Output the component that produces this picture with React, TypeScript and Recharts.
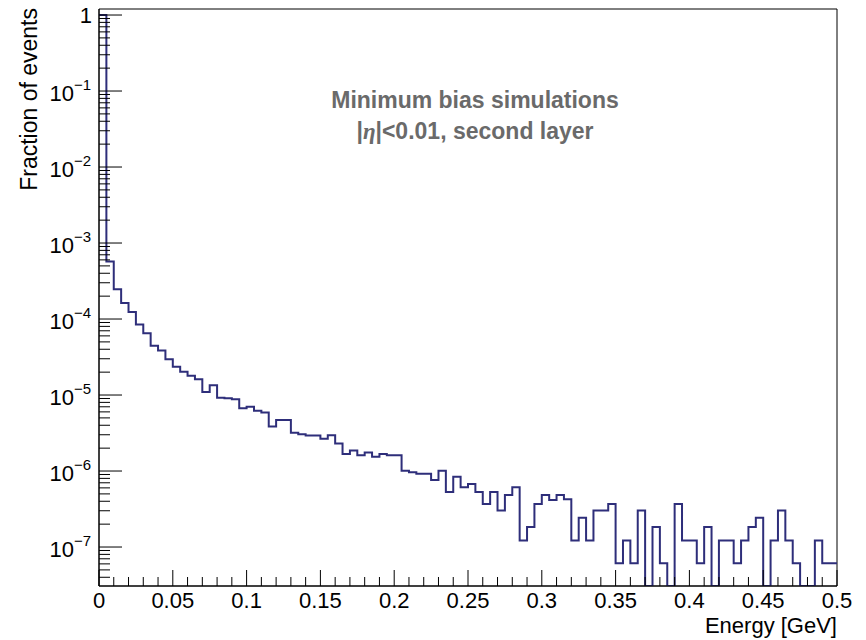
import { LineChart, Line, XAxis, YAxis, ReferenceArea } from "recharts";

// histogram: 100 bins of 5 MeV, fraction of events per bin (0 = empty bin)
const BIN_WIDTH = 0.005;
const fractions = [
  0.999, 5.7e-4, 2.46e-4, 1.62e-4, 1.24e-4, 8.5e-5, 6.5e-5, 4.45e-5, 3.85e-5, 2.95e-5,
  2.36e-5, 2.03e-5, 1.79e-5, 1.61e-5, 1.1e-5, 1.34e-5, 9.2e-6, 9.1e-6, 8.8e-6, 6.7e-6,
  7.0e-6, 6.2e-6, 5.9e-6, 3.85e-6, 4.7e-6, 4.7e-6, 3.2e-6, 3.04e-6, 2.93e-6, 2.93e-6,
  2.66e-6, 2.95e-6, 2.31e-6, 1.67e-6, 1.86e-6, 1.61e-6, 1.75e-6, 1.54e-6, 1.67e-6, 1.61e-6,
  1.61e-6, 1.01e-6, 9.6e-7, 9.2e-7, 9.2e-7, 7.6e-7, 1.01e-6, 5.3e-7, 8.4e-7, 6.1e-7,
  6.75e-7, 5.3e-7, 3.68e-7, 5.3e-7, 3.02e-7, 4.83e-7, 6.1e-7, 1.22e-7, 1.83e-7, 3.68e-7,
  4.83e-7, 4.15e-7, 4.83e-7, 4.25e-7, 1.22e-7, 2.42e-7, 1.22e-7, 3.02e-7, 3.02e-7, 3.68e-7,
  6.1e-8, 1.22e-7, 6.1e-8, 3.02e-7, 0, 1.83e-7, 6.1e-8, 0, 3.68e-7, 1.22e-7,
  1.22e-7, 6.1e-8, 1.83e-7, 0, 1.22e-7, 1.22e-7, 6.1e-8, 1.22e-7, 1.83e-7, 2.42e-7,
  0, 1.22e-7, 3.02e-7, 1.22e-7, 6.1e-8, 0, 0, 1.22e-7, 6.1e-8, 6.1e-8,
];

const xMajorTicks = [0, 0.05, 0.1, 0.15, 0.2, 0.25, 0.3, 0.35, 0.4, 0.45, 0.5];
const xMinorTicks = [
  0.01, 0.02, 0.03, 0.04, 0.06, 0.07, 0.08, 0.09, 0.11, 0.12, 0.13, 0.14,
  0.16, 0.17, 0.18, 0.19, 0.21, 0.22, 0.23, 0.24, 0.26, 0.27, 0.28, 0.29,
  0.31, 0.32, 0.33, 0.34, 0.36, 0.37, 0.38, 0.39, 0.41, 0.42, 0.43, 0.44,
  0.46, 0.47, 0.48, 0.49,
];
const yExponents = [0, -1, -2, -3, -4, -5, -6, -7];
const yMantissas = [2, 3, 4, 5, 6, 7, 8, 9];

const Y_MIN = 3.07e-8;
const Y_MAX = 1.2;
const FONT = "'Liberation Sans', Arial, Helvetica, sans-serif";
const HIST_COLOR = "#2e2e7a";

const yMajorTicks = yExponents.map((e) => Math.pow(10, e));
const yMinorTicks: number[] = [];
[-1, -2, -3, -4, -5, -6, -7, -8].forEach((e) => {
  yMantissas.forEach((m) => {
    const v = m * Math.pow(10, e);
    if (v > Y_MIN && v < Y_MAX) yMinorTicks.push(v);
  });
});

const chartData = fractions.map((f, i) => ({
  energy: i * BIN_WIDTH,
  frac: f > 0 ? f : Y_MIN,
}));
// closing point so the last bin extends to the right edge
chartData.push({ energy: fractions.length * BIN_WIDTH, frac: chartData[chartData.length - 1].frac });

const XTick = ({ x, y, payload }: any) => {
  const v = payload.value;
  const major = xMajorTicks.includes(v);
  return (
    <g>
      <line x1={x} x2={x} y1={y} y2={y - (major ? 16 : 9)} stroke="#000" strokeWidth={1} />
      {major && (
        <text x={x} y={y + 22} textAnchor="middle" fontSize={22} fontFamily={FONT} fill="#000">
          {String(Number(v.toFixed(2)))}
        </text>
      )}
    </g>
  );
};

const YTick = ({ x, y, payload }: any) => {
  const v = payload.value;
  const idx = yMajorTicks.indexOf(v);
  const major = idx >= 0;
  const exp = major ? yExponents[idx] : 0;
  return (
    <g>
      <line x1={x} x2={x + (major ? 23 : 11)} y1={y} y2={y} stroke="#000" strokeWidth={1} />
      {major &&
        (exp === 0 ? (
          <text x={x - 7} y={y + 8} textAnchor="end" fontSize={22} fontFamily={FONT} fill="#000">
            1
          </text>
        ) : (
          <text x={x - 8} y={y + 10} textAnchor="end" fontSize={22} fontFamily={FONT} fill="#000">
            10
            <tspan dy={-11} fontSize={15}>
              {"\u2212" + String(-exp)}
            </tspan>
          </text>
        ))}
    </g>
  );
};

export default function App() {
  return (
    <div style={{ position: "absolute", left: 0, top: 0, width: 866, height: 640, background: "#fff" }}>
      <LineChart
        width={866}
        height={640}
        data={chartData}
        margin={{ top: 9, right: 29, bottom: 0, left: 9 }}
      >
        <XAxis
          dataKey="energy"
          type="number"
          domain={[0, 0.5]}
          ticks={[...xMajorTicks, ...xMinorTicks].sort((a, b) => a - b)}
          interval={0}
          height={54}
          tickSize={0}
          tickMargin={0}
          tickLine={false}
          axisLine={{ stroke: "#000", strokeWidth: 1 }}
          tick={<XTick />}
          allowDataOverflow
        />
        <YAxis
          scale="log"
          domain={[Y_MIN, Y_MAX]}
          ticks={[...yMajorTicks, ...yMinorTicks]}
          interval={0}
          width={90}
          tickSize={0}
          tickMargin={0}
          tickLine={false}
          axisLine={{ stroke: "#000", strokeWidth: 1 }}
          tick={<YTick />}
          allowDataOverflow
        />
        <ReferenceArea
          x1={0}
          x2={0.5}
          y1={Y_MIN}
          y2={Y_MAX}
          fill="none"
          stroke="#000"
          strokeWidth={1}
          fillOpacity={0}
        />
        <Line
          type="stepAfter"
          dataKey="frac"
          stroke={HIST_COLOR}
          strokeWidth={2}
          dot={false}
          activeDot={false}
          isAnimationActive={false}
        />
      </LineChart>
      <svg
        width={866}
        height={640}
        style={{ position: "absolute", left: 0, top: 0, pointerEvents: "none" }}
      >
        <text
          transform="rotate(-90)"
          x={-8}
          y={37}
          textAnchor="end"
          fontSize={23}
          fontFamily={FONT}
          fill="#000"
        >
          Fraction of events
        </text>
        <text x={837} y={633} textAnchor="end" fontSize={22} fontFamily={FONT} fill="#000">
          Energy [GeV]
        </text>
        <text x={475} y={108} textAnchor="middle" fontSize={23} fontWeight="bold" fontFamily={FONT} fill="#6a6a6a">
          Minimum bias simulations
        </text>
        <text x={475} y={139} textAnchor="middle" fontSize={23} fontWeight="bold" fontFamily={FONT} fill="#6a6a6a">
          |
          <tspan fontFamily="'Liberation Serif', 'Times New Roman', serif" fontStyle="italic">
            η
          </tspan>
          |&lt;0.01, second layer
        </text>
      </svg>
    </div>
  );
}
